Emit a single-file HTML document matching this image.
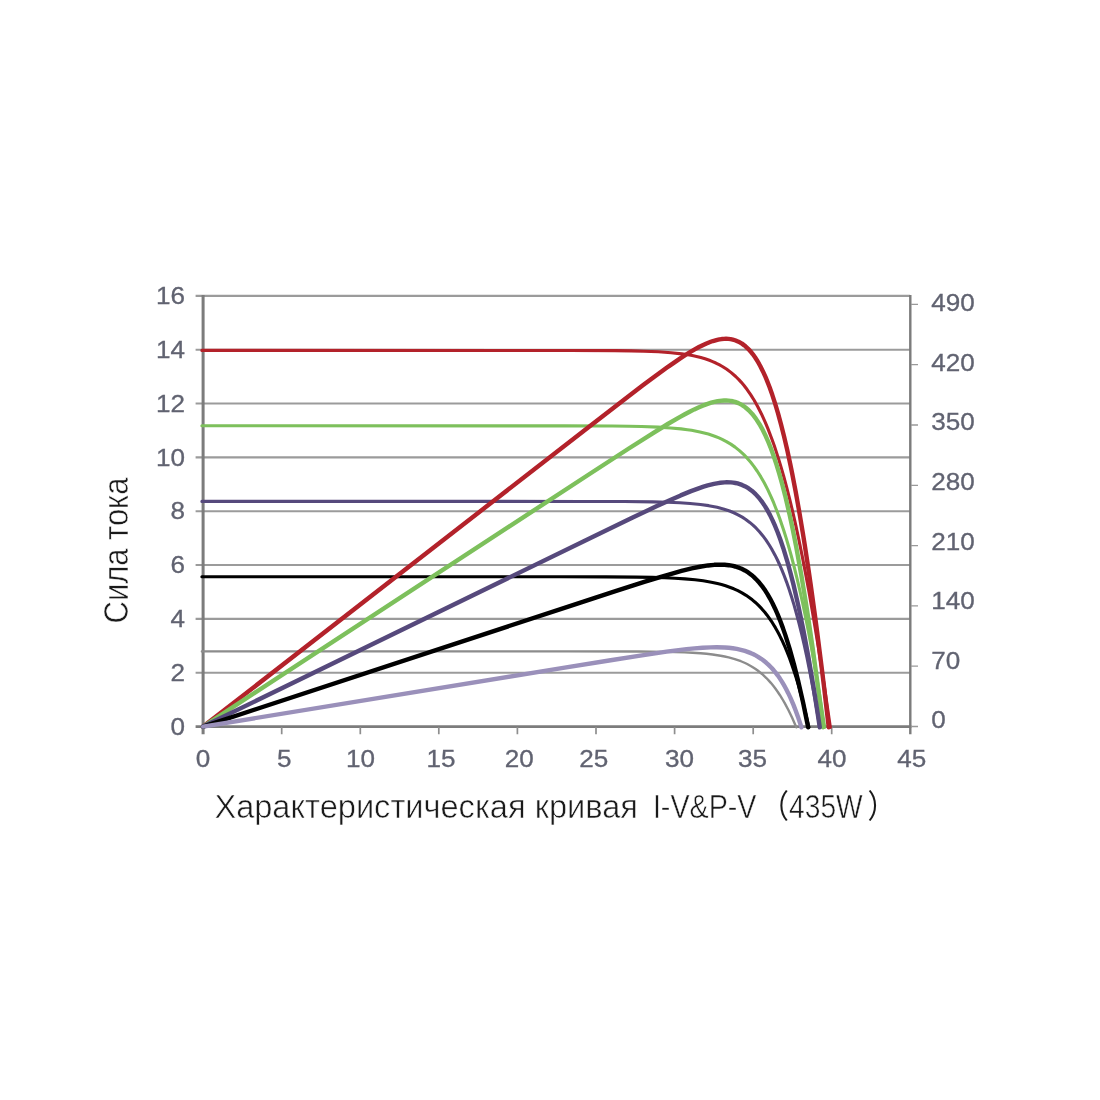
<!DOCTYPE html>
<html lang="ru">
<head>
<meta charset="utf-8">
<title>Характеристическая кривая I-V&amp;P-V (435W)</title>
<style>
html,body{margin:0;padding:0;background:#fff;}
body{width:1100px;height:1100px;overflow:hidden;font-family:"Liberation Sans","Noto Sans CJK SC",sans-serif;}
svg{display:block;}
</style>
</head>
<body>
<svg width="1100" height="1100" viewBox="0 0 1100 1100">
<defs>
<filter id="softLines" filterUnits="userSpaceOnUse" x="180" y="280" width="760" height="470"><feGaussianBlur stdDeviation="0.45"/></filter>
<filter id="softText" filterUnits="userSpaceOnUse" x="140" y="270" width="860" height="520"><feGaussianBlur stdDeviation="0.6"/></filter>
</defs>
<rect width="1100" height="1100" fill="#fff"/>
<g filter="url(#softLines)">
<!-- horizontal grid lines -->
<g stroke="#9b9b9b" stroke-width="2.1" fill="none">
<path d="M195.6 295.90 H910"/>
<path d="M195.6 349.73 H910"/>
<path d="M195.6 403.56 H910"/>
<path d="M195.6 457.39 H910"/>
<path d="M195.6 511.22 H910"/>
<path d="M195.6 565.05 H910"/>
<path d="M195.6 618.88 H910"/>
<path d="M195.6 672.71 H910"/>
</g>
<!-- axes and ticks -->
<g stroke="#7b7b7b" fill="none">
<path d="M203.1 294.9 V734.3" stroke-width="3.0"/>
<path d="M195.6 726.6 H911.4" stroke-width="2.8"/>
<path d="M910.3 294.9 V734.3" stroke-width="2.4"/>
<path d="M281.7 727 V734.3M360.3 727 V734.3M438.8 727 V734.3M517.4 727 V734.3M596.0 727 V734.3M674.6 727 V734.3M753.2 727 V734.3M831.7 727 V734.3" stroke-width="1.7" stroke="#8e8e8e"/>
<path d="M911 304.4 H918M911 364.7 H918M911 425.0 H918M911 485.3 H918M911 545.6 H918M911 605.9 H918M911 666.2 H918M911 726.5 H918" stroke-width="1.3" stroke="#999999"/>
</g>
<!-- I-V curves (thin) then P-V curves (thick) -->
<g fill="none" stroke-linejoin="round" stroke-linecap="round">
<path d="M201.90 350.40 L570.46 350.45 L614.45 350.66 L631.22 350.90 L643.81 351.21 L658.51 351.82 L671.14 352.71 L681.69 353.86 L688.04 354.81 L692.29 355.59 L696.54 356.50 L700.81 357.57 L705.09 358.82 L709.38 360.30 L712.62 361.58 L715.86 363.02 L719.12 364.64 L722.40 366.48 L726.79 369.30 L731.22 372.62 L735.69 376.52 L739.08 379.89 L741.35 382.37 L743.64 385.06 L747.11 389.53 L750.61 394.57 L754.17 400.26 L757.78 406.69 L761.45 413.95 L765.18 422.14 L767.71 428.18 L771.58 438.21 L774.22 445.60 L778.25 457.87 L781.00 466.92 L783.81 476.73 L786.68 487.36 L789.61 498.89 L792.61 511.40 L795.69 524.95 L798.85 539.65 L802.11 555.58 L805.45 572.85 L808.91 591.58 L812.48 611.88 L818.07 645.59 L823.98 683.64 L830.34 727.30" stroke="#b3202a" stroke-width="3.1"/>
<path d="M201.90 425.80 L564.69 425.85 L612.43 426.06 L629.04 426.27 L641.51 426.54 L658.15 427.15 L670.64 427.93 L681.08 428.90 L687.35 429.69 L691.54 430.33 L699.94 431.93 L704.15 432.93 L708.37 434.09 L714.72 436.21 L718.97 437.90 L722.17 439.36 L726.46 441.57 L730.76 444.15 L735.09 447.14 L739.46 450.62 L743.85 454.67 L747.17 458.14 L750.52 462.03 L753.90 466.37 L757.30 471.25 L760.74 476.70 L764.23 482.82 L767.75 489.66 L771.33 497.33 L773.74 502.95 L777.41 512.21 L779.90 519.00 L783.69 530.19 L786.26 538.38 L788.87 547.22 L791.52 556.76 L794.21 567.04 L796.96 578.13 L799.76 590.10 L802.61 603.00 L805.53 616.91 L808.51 631.92 L813.11 656.67 L816.28 674.80 L819.54 694.35 L824.71 727.30" stroke="#7dc05c" stroke-width="3.1"/>
<path d="M201.90 501.40 L580.93 501.43 L624.17 501.55 L653.00 501.87 L667.43 502.23 L679.80 502.75 L690.13 503.44 L700.47 504.47 L708.77 505.65 L712.92 506.41 L717.08 507.30 L723.34 508.94 L729.62 511.04 L733.82 512.76 L738.04 514.78 L742.27 517.16 L745.46 519.21 L749.74 522.38 L752.96 525.12 L756.20 528.22 L759.47 531.72 L762.75 535.68 L766.06 540.16 L769.40 545.23 L771.65 548.96 L775.04 555.18 L777.33 559.76 L779.64 564.74 L781.96 570.14 L784.31 576.00 L786.69 582.36 L789.09 589.27 L791.52 596.76 L793.99 604.89 L796.48 613.72 L799.02 623.30 L801.59 633.70 L804.21 644.98 L806.88 657.22 L810.98 677.57 L815.22 700.58 L819.71 727.30" stroke="#574a7c" stroke-width="3.1"/>
<path d="M201.90 576.70 L559.52 576.73 L606.03 576.83 L636.37 577.09 L652.55 577.38 L664.70 577.75 L674.82 578.21 L684.95 578.86 L695.09 579.79 L703.21 580.82 L711.34 582.19 L717.44 583.52 L721.52 584.57 L725.60 585.78 L729.69 587.19 L733.78 588.81 L737.88 590.68 L741.99 592.84 L746.11 595.34 L749.21 597.46 L752.31 599.82 L755.42 602.46 L758.54 605.39 L761.67 608.65 L764.82 612.29 L766.92 614.94 L770.08 619.30 L772.20 622.47 L775.39 627.68 L777.53 631.49 L779.67 635.57 L781.83 639.96 L785.08 647.16 L787.26 652.41 L789.45 658.06 L791.65 664.12 L793.87 670.64 L796.10 677.64 L798.35 685.16 L800.62 693.25 L802.90 701.94 L805.21 711.27 L808.85 727.30" stroke="#000000" stroke-width="3.1"/>
<path d="M201.90 651.40 L567.72 651.41 L639.00 651.55 L664.76 651.83 L684.61 652.37 L692.57 652.75 L700.54 653.28 L706.53 653.81 L712.54 654.49 L720.58 655.70 L724.62 656.47 L728.67 657.38 L734.78 659.07 L740.93 661.24 L745.07 663.01 L747.15 664.02 L750.29 665.69 L752.39 666.93 L755.57 668.98 L757.70 670.50 L762.01 673.95 L766.38 678.03 L768.59 680.33 L770.82 682.84 L773.07 685.56 L775.35 688.52 L777.65 691.73 L779.98 695.22 L782.34 699.02 L784.74 703.14 L788.39 710.01 L792.15 717.79 L796.30 727.30" stroke="#8c8c8c" stroke-width="2.4"/>
<path d="M203.10 726.60 L587.80 427.72 L628.55 396.26 L643.19 385.12 L654.70 376.49 L668.34 366.57 L679.91 358.58 L685.18 355.13 L690.47 351.85 L694.71 349.37 L698.97 347.04 L703.24 344.91 L706.46 343.46 L710.76 341.76 L712.92 341.02 L717.27 339.83 L719.45 339.38 L721.65 339.06 L723.85 338.85 L726.06 338.79 L728.29 338.89 L730.53 339.15 L732.78 339.60 L735.05 340.25 L738.48 341.66 L741.96 343.65 L744.30 345.35 L745.48 346.31 L747.86 348.51 L749.06 349.75 L751.49 352.54 L752.71 354.09 L755.18 357.54 L756.43 359.45 L758.96 363.68 L760.23 366.01 L762.82 371.14 L765.46 376.94 L766.80 380.11 L769.51 387.05 L772.28 394.84 L775.12 403.58 L778.03 413.37 L781.01 424.30 L784.08 436.51 L787.24 450.11 L790.50 465.27 L792.17 473.47 L795.60 491.26 L799.15 511.04 L802.84 533.02 L804.74 544.91 L808.66 570.65 L810.68 584.57 L814.86 614.70 L817.03 630.99 L821.51 666.25 L823.84 685.32 L828.74 727.30" stroke="#b3202a" stroke-width="4.4"/>
<path d="M203.10 726.60 L588.41 474.73 L628.79 448.50 L654.70 432.02 L668.20 423.75 L679.65 417.09 L684.87 414.21 L690.10 411.47 L694.29 409.40 L698.49 407.46 L702.71 405.67 L706.94 404.07 L711.19 402.70 L713.32 402.12 L717.60 401.18 L719.75 400.84 L724.07 400.47 L726.25 400.46 L728.43 400.59 L730.63 400.85 L732.84 401.28 L735.06 401.88 L738.41 403.14 L741.80 404.90 L745.24 407.23 L748.72 410.22 L752.25 413.97 L755.85 418.59 L759.51 424.21 L762.00 428.60 L765.81 436.26 L768.40 442.17 L771.04 448.80 L773.73 456.22 L776.48 464.52 L779.29 473.78 L782.18 484.10 L785.14 495.59 L789.73 515.27 L792.91 530.24 L796.20 546.85 L801.34 575.25 L806.77 608.42 L812.54 647.14 L816.59 676.49 L818.68 692.34 L823.10 727.30" stroke="#7dc05c" stroke-width="4.4"/>
<path d="M203.10 726.60 L591.00 537.77 L632.19 517.84 L656.92 506.09 L670.34 499.94 L680.67 495.40 L691.04 491.16 L699.36 488.09 L703.53 486.70 L707.71 485.45 L714.02 483.87 L718.24 483.07 L720.36 482.76 L724.61 482.36 L726.75 482.28 L731.05 482.41 L733.21 482.64 L735.38 482.98 L737.56 483.47 L739.76 484.10 L741.97 484.89 L745.30 486.43 L748.68 488.43 L752.09 490.96 L755.56 494.12 L759.08 498.00 L761.46 501.04 L765.09 506.37 L767.55 510.50 L770.05 515.15 L772.59 520.36 L775.18 526.21 L777.82 532.74 L780.51 540.04 L783.27 548.18 L787.53 562.16 L790.46 572.81 L793.47 584.65 L798.17 604.91 L803.10 628.62 L808.30 656.34 L813.80 688.74 L817.67 713.32 L819.77 727.30" stroke="#574a7c" stroke-width="4.4"/>
<path d="M203.10 726.60 L568.25 606.59 L614.71 591.42 L645.04 581.72 L659.20 577.35 L671.36 573.77 L681.51 570.98 L691.69 568.47 L699.86 566.76 L708.06 565.45 L714.24 564.82 L720.46 564.61 L724.63 564.75 L728.83 565.19 L733.05 565.96 L735.18 566.50 L739.46 567.92 L741.61 568.83 L744.87 570.47 L748.16 572.49 L751.48 574.95 L753.72 576.86 L757.11 580.20 L759.40 582.77 L762.88 587.21 L765.24 590.60 L767.62 594.38 L770.04 598.59 L772.50 603.26 L774.99 608.45 L777.53 614.20 L780.11 620.56 L782.75 627.61 L785.44 635.40 L789.59 648.66 L793.90 664.04 L798.39 681.90 L803.08 702.60 L808.15 727.30" stroke="#000000" stroke-width="4.4"/>
<path d="M203.10 726.60 L564.72 667.64 L610.66 660.21 L638.62 655.80 L666.59 651.67 L676.59 650.34 L686.59 649.16 L694.59 648.35 L702.60 647.72 L710.62 647.33 L716.64 647.24 L724.68 647.48 L728.70 647.79 L732.73 648.27 L736.77 648.92 L740.81 649.80 L744.86 650.91 L746.88 651.58 L750.94 653.15 L752.98 654.06 L756.04 655.63 L758.08 656.80 L761.15 658.79 L763.20 660.27 L766.28 662.78 L768.34 664.64 L771.44 667.76 L773.52 670.08 L775.60 672.61 L777.68 675.36 L779.78 678.35 L781.88 681.61 L783.98 685.14 L786.10 688.98 L788.22 693.14 L790.36 697.66 L793.58 705.16 L795.74 710.69 L797.91 716.68 L801.42 727.30" stroke="#9a90ba" stroke-width="4.4"/>
</g>
</g>
<!-- numeric tick labels -->
<g font-family="'Liberation Sans', sans-serif" font-size="23.5" fill="#616371" stroke="#616371" stroke-width="0.3" filter="url(#softText)">
<text transform="translate(185.0 304.0) scale(1.11 1)" text-anchor="end">16</text>
<text transform="translate(185.0 357.8) scale(1.11 1)" text-anchor="end">14</text>
<text transform="translate(185.0 411.7) scale(1.11 1)" text-anchor="end">12</text>
<text transform="translate(185.0 465.5) scale(1.11 1)" text-anchor="end">10</text>
<text transform="translate(185.0 519.3) scale(1.11 1)" text-anchor="end">8</text>
<text transform="translate(185.0 573.1) scale(1.11 1)" text-anchor="end">6</text>
<text transform="translate(185.0 627.0) scale(1.11 1)" text-anchor="end">4</text>
<text transform="translate(185.0 680.8) scale(1.11 1)" text-anchor="end">2</text>
<text transform="translate(185.0 734.6) scale(1.11 1)" text-anchor="end">0</text>
<text transform="translate(931.2 311.3) scale(1.11 1)" text-anchor="start">490</text>
<text transform="translate(931.2 370.9) scale(1.11 1)" text-anchor="start">420</text>
<text transform="translate(931.2 430.4) scale(1.11 1)" text-anchor="start">350</text>
<text transform="translate(931.2 490.0) scale(1.11 1)" text-anchor="start">280</text>
<text transform="translate(931.2 549.6) scale(1.11 1)" text-anchor="start">210</text>
<text transform="translate(931.2 609.1) scale(1.11 1)" text-anchor="start">140</text>
<text transform="translate(931.2 668.7) scale(1.11 1)" text-anchor="start">70</text>
<text transform="translate(931.2 728.3) scale(1.11 1)" text-anchor="start">0</text>
<text transform="translate(203.1 766.5) scale(1.11 1)" text-anchor="middle">0</text>
<text transform="translate(284.2 766.5) scale(1.11 1)" text-anchor="middle">5</text>
<text transform="translate(360.4 766.5) scale(1.11 1)" text-anchor="middle">10</text>
<text transform="translate(440.9 766.5) scale(1.11 1)" text-anchor="middle">15</text>
<text transform="translate(519.2 766.5) scale(1.11 1)" text-anchor="middle">20</text>
<text transform="translate(593.7 766.5) scale(1.11 1)" text-anchor="middle">25</text>
<text transform="translate(679.4 766.5) scale(1.11 1)" text-anchor="middle">30</text>
<text transform="translate(752.4 766.5) scale(1.11 1)" text-anchor="middle">35</text>
<text transform="translate(831.9 766.5) scale(1.11 1)" text-anchor="middle">40</text>
<text transform="translate(911.7 766.5) scale(1.11 1)" text-anchor="middle">45</text>
</g>
<!-- axis title and chart caption -->
<g font-family="'Liberation Sans', 'Noto Sans CJK SC', sans-serif" fill="#1a1a1a" stroke="#ffffff" stroke-width="0.55" stroke-linejoin="round">
<text transform="translate(214.4 817.8) scale(1.003 1)" font-size="32.5">Характеристическая кривая</text>
<text transform="translate(652.9 817.8) scale(0.883 1)" font-size="32.5">I-V&amp;P-V</text>
<text transform="translate(760.8 817.8) scale(0.868 1)" font-size="32.5"><tspan stroke="none">（</tspan>435W<tspan stroke="none" dx="5.5">）</tspan></text>
<text transform="translate(128.2 623.4) rotate(-90) scale(0.897 1)" font-size="34.5">Сила тока</text>
</g>
</svg>
</body>
</html>
